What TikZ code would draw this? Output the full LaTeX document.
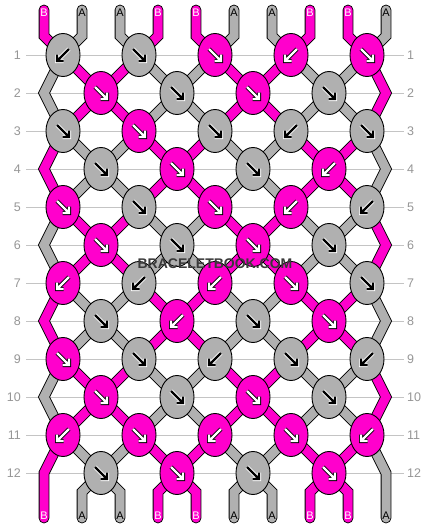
\documentclass[tikz,border=0pt]{standalone}
\usepackage{fontspec}
\setmainfont{Liberation Sans}
\usepackage{xcolor}
\usepackage{tikz}
\usetikzlibrary{shapes.geometric,backgrounds}

\definecolor{pk}{RGB}{255,0,204}
\definecolor{gy}{RGB}{176,176,176}
\definecolor{numgray}{RGB}{150,150,150}
\definecolor{linegray}{RGB}{196,196,196}
\definecolor{markgray}{RGB}{58,58,58}
\def\pkname{pk}

\tikzstyle{knot} = [ellipse, draw=black, line width=0.9pt, minimum width=34pt, minimum height=43pt, inner sep=0pt]
\tikzstyle{thread} = [draw=black, line width=0.9pt, double distance=9pt, line cap=round, line join=miter]
\tikzstyle{rowline} = [draw=linegray, line width=1pt]
\tikzstyle{rownum} = [text=numgray, inner sep=0pt, font=\fontsize{12.5}{12.5}\selectfont]
\tikzstyle{endlabel} = [inner sep=0pt, font=\fontsize{11}{11}\selectfont]

\begin{document}
\begin{tikzpicture}[x=1pt, y=-1pt]
    \useasboundingbox (0,0) rectangle (430,528);

    % knots (colour / direction: 1 = forward, -1 = backward)
    \foreach \r/\lst in {%
        1/{gy/-1,gy/1,pk/1,pk/-1,pk/1},%
        2/{pk/1,gy/1,pk/1,gy/1},%
        3/{gy/1,pk/1,gy/1,gy/-1,gy/1},%
        4/{gy/1,pk/1,gy/1,pk/-1},%
        5/{pk/1,gy/1,pk/1,pk/-1,gy/-1},%
        6/{pk/1,gy/1,pk/1,gy/1},%
        7/{pk/-1,gy/-1,pk/-1,pk/1,gy/1},%
        8/{gy/1,pk/-1,gy/1,pk/1},%
        9/{pk/1,gy/1,gy/-1,gy/1,gy/-1},%
        10/{pk/1,gy/1,pk/1,gy/1},%
        11/{pk/-1,pk/1,pk/-1,pk/1,pk/-1},%
        12/{gy/1,pk/1,gy/1,pk/1}%
    }{
        \foreach \col/\s [count=\c] in \lst {
            \pgfmathsetmacro\kx{63+38*(1-mod(\r,2))+76*(\c-1)}
            \pgfmathsetmacro\ky{55+38*(\r-1)}
            \node[knot, fill=\col] (k\r-\c) at (\kx,\ky) {};
            \def\ac{black}\def\oc{white}
            \ifx\col\pkname \def\ac{white}\def\oc{black}\fi
            \begin{scope}[shift={(\kx,\ky)}, xscale=\s]
                \draw[\oc, line width=4pt] (-6,-6) -- (5.5,5.5) (6,-0.5) -- (6,6) -- (-0.5,6);
                \draw[\ac, line width=2.4pt] (-6,-6) -- (5.5,5.5) (6,-0.5) -- (6,6) -- (-0.5,6);
            \end{scope}
        }
    }

    % string ends and edge bends
    \foreach \i in {1,...,10} {
        \pgfmathsetmacro\sx{44+38*(\i-1)}
        \coordinate (t\i) at (\sx,10);
        \coordinate (tb\i) at (\sx,36);
        \coordinate (bb\i) at (\sx,492);
        \coordinate (b\i) at (\sx,518);
    }
    \foreach \r in {2,4,...,12} {
        \pgfmathsetmacro\ry{55+38*(\r-1)}
        \coordinate (L\r) at (44,\ry);
        \coordinate (R\r) at (386,\ry);
    }

    \begin{scope}[on background layer]
        \fill[white] (0,0) rectangle (430,528);
        \foreach \r in {1,...,12} {
            \pgfmathsetmacro\ry{55+38*(\r-1)}
            \draw[rowline] (26,\ry) -- (404,\ry);
        }
        % the ten strings
        \draw[thread, double=pk] (t1) -- (tb1) -- (k1-1.center) -- (k2-1.center) -- (k3-2.center) -- (k4-2.center) -- (k5-3.center) -- (k6-3.center) -- (k7-4.center) -- (k8-4.center) -- (k9-5.center) -- (R10) -- (k11-5.center) -- (k12-4.center) -- (bb8) -- (b8);
        \draw[thread, double=gy] (t2) -- (tb2) -- (k1-1.center) -- (L2) -- (k3-1.center) -- (k4-1.center) -- (k5-2.center) -- (k6-2.center) -- (k7-3.center) -- (k8-3.center) -- (k9-4.center) -- (k10-4.center) -- (k11-5.center) -- (R12) -- (b10);
        \draw[thread, double=gy] (t3) -- (tb3) -- (k1-2.center) -- (k2-2.center) -- (k3-3.center) -- (k4-3.center) -- (k5-4.center) -- (k6-4.center) -- (k7-5.center) -- (R8) -- (k9-5.center) -- (k10-4.center) -- (k11-4.center) -- (k12-3.center) -- (bb6) -- (b6);
        \draw[thread, double=pk] (t4) -- (tb4) -- (k1-2.center) -- (k2-1.center) -- (k3-1.center) -- (L4) -- (k5-1.center) -- (k6-1.center) -- (k7-2.center) -- (k8-2.center) -- (k9-3.center) -- (k10-3.center) -- (k11-4.center) -- (k12-4.center) -- (bb9) -- (b9);
        \draw[thread, double=pk] (t5) -- (tb5) -- (k1-3.center) -- (k2-3.center) -- (k3-4.center) -- (k4-4.center) -- (k5-5.center) -- (R6) -- (k7-5.center) -- (k8-4.center) -- (k9-4.center) -- (k10-3.center) -- (k11-3.center) -- (k12-2.center) -- (bb4) -- (b4);
        \draw[thread, double=gy] (t6) -- (tb6) -- (k1-3.center) -- (k2-2.center) -- (k3-2.center) -- (k4-1.center) -- (k5-1.center) -- (L6) -- (k7-1.center) -- (k8-1.center) -- (k9-2.center) -- (k10-2.center) -- (k11-3.center) -- (k12-3.center) -- (bb7) -- (b7);
        \draw[thread, double=gy] (t7) -- (tb7) -- (k1-4.center) -- (k2-4.center) -- (k3-5.center) -- (R4) -- (k5-5.center) -- (k6-4.center) -- (k7-4.center) -- (k8-3.center) -- (k9-3.center) -- (k10-2.center) -- (k11-2.center) -- (k12-1.center) -- (bb2) -- (b2);
        \draw[thread, double=pk] (t8) -- (tb8) -- (k1-4.center) -- (k2-3.center) -- (k3-3.center) -- (k4-2.center) -- (k5-2.center) -- (k6-1.center) -- (k7-1.center) -- (L8) -- (k9-1.center) -- (k10-1.center) -- (k11-2.center) -- (k12-2.center) -- (bb5) -- (b5);
        \draw[thread, double=pk] (t9) -- (tb9) -- (k1-5.center) -- (R2) -- (k3-5.center) -- (k4-4.center) -- (k5-4.center) -- (k6-3.center) -- (k7-3.center) -- (k8-2.center) -- (k9-2.center) -- (k10-1.center) -- (k11-1.center) -- (L12) -- (b1);
        \draw[thread, double=gy] (t10) -- (tb10) -- (k1-5.center) -- (k2-4.center) -- (k3-4.center) -- (k4-3.center) -- (k5-3.center) -- (k6-2.center) -- (k7-2.center) -- (k8-1.center) -- (k9-1.center) -- (L10) -- (k11-1.center) -- (k12-1.center) -- (bb3) -- (b3);
    \end{scope}

    % row numbers
    \foreach \r in {1,...,12} {
        \pgfmathsetmacro\ry{55+38*(\r-1)}
        \node[rownum, anchor=east] (nl\r) at (21,\ry) {\r};
        \node[rownum, anchor=west] (nr\r) at (407,\ry) {\r};
    }

    % string labels
    \foreach \lab/\tc [count=\i] in {B/white,A/black,A/black,B/white,B/white,A/black,A/black,B/white,B/white,A/black} {
        \pgfmathsetmacro\sx{44+38*(\i-1)}
        \node[endlabel, text=\tc] (top\i) at (\sx,13) {\lab};
        \node[endlabel, text=\tc] (bot\i) at (\sx,516) {\lab};
    }

    \node[text=markgray, font=\bfseries\fontsize{14}{14}\selectfont] (mark) at (215,263.5) {BRACELETBOOK.COM};
\end{tikzpicture}
\end{document}
